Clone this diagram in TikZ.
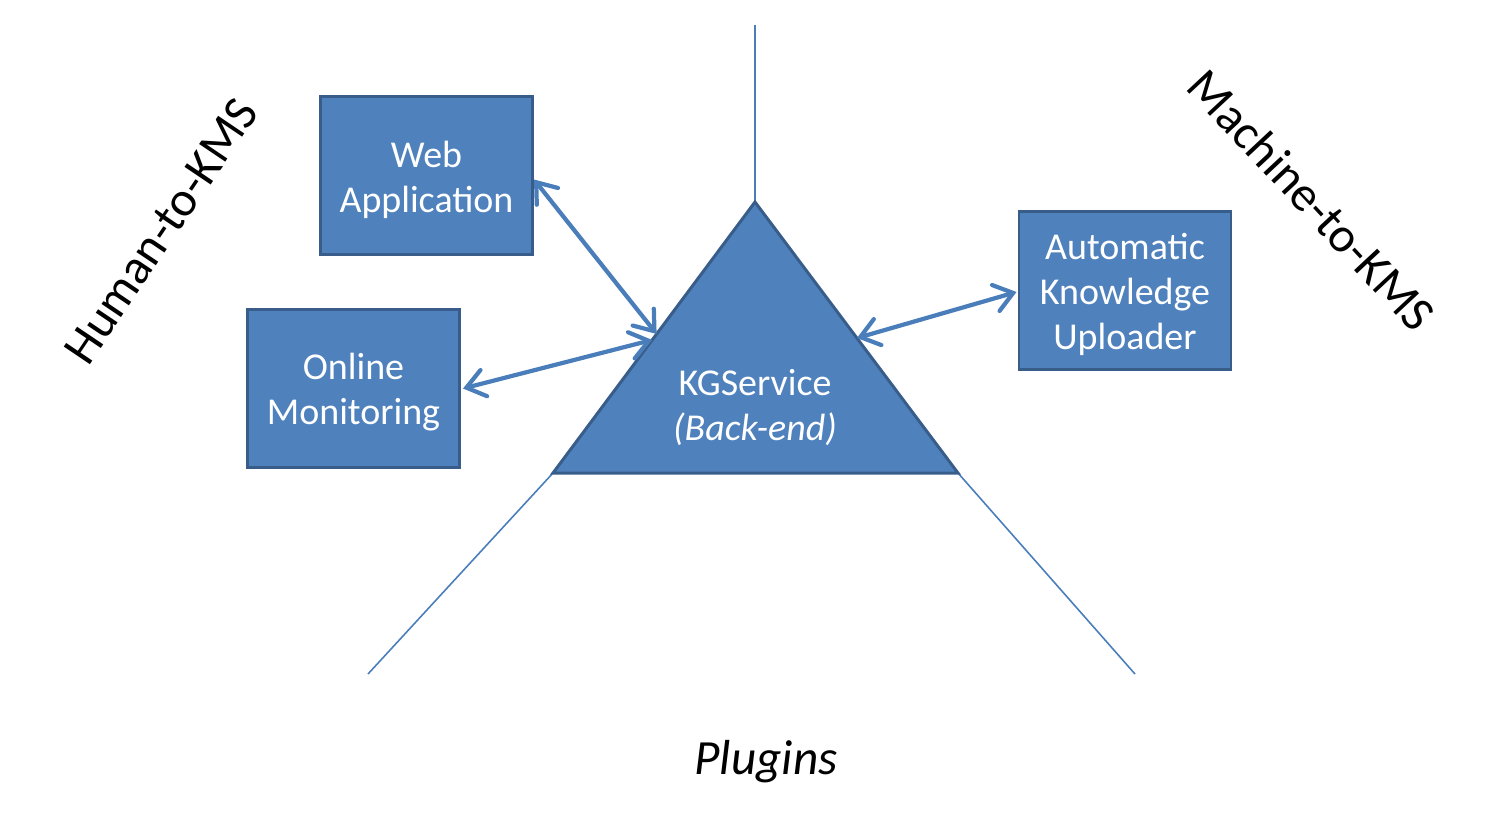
\documentclass[tikz,border=0pt]{standalone}
\usepackage{fontspec}
\setmainfont{Carlito}
\usetikzlibrary{arrows.meta,calc}
\definecolor{boxfill}{HTML}{4F81BD}
\definecolor{boxline}{HTML}{385D8A}
\definecolor{linkcol}{HTML}{4A7EBB}
\newcommand{\boxtop}{\rule{0pt}{9.8pt}}
\tikzset{
  block/.style={draw=boxline,fill=boxfill,line width=0.85pt,text=white,align=center,
    minimum width=2.12cm,minimum height=1.58cm,inner sep=0pt,
    font=\fontsize{10.8}{12.8}\selectfont},
  link/.style={draw=linkcol,line width=1.2pt,line cap=round,
    {Straight Barb[length=0.18cm,width=0.27cm,line cap=round]}-{Straight Barb[length=0.18cm,width=0.27cm,line cap=round]}},
  sector/.style={draw=linkcol,line width=0.45pt},
  biglabel/.style={font=\fontsize{14}{17}\selectfont}
}
\begin{document}
\begin{tikzpicture}
\useasboundingbox (0,0) rectangle (14.97,-8.19);
\coordinate (apex) at (7.55,-2.02);
\coordinate (bl) at (5.53,-4.73);
\coordinate (br) at (9.58,-4.73);
\coordinate (topend) at (7.55,-0.25);
\coordinate (llend) at (3.68,-6.74);
\coordinate (lrend) at (11.35,-6.74);
\draw[sector] (topend) -- (apex);
\draw[sector] (bl) -- (llend);
\draw[sector] (br) -- (lrend);
\draw[draw=boxline,fill=boxfill,line width=0.85pt,line join=miter] (apex) -- (bl) -- (br) -- cycle;
\node[text=white,align=center,font=\fontsize{10.8}{12.8}\selectfont] (kg) at (7.55,-4.08) {KGService\\\textit{(Back-end)}};
\node[block] (web) at (4.265,-1.755) {\boxtop Web\\Application};
\node[block] (online) at (3.535,-3.885) {\boxtop Online\\Monitoring};
\node[block] (aku) at (11.25,-2.90) {\boxtop Automatic\\Knowledge\\Uploader};
\coordinate (kgweb) at ($(apex)!0.487!(bl)$);
\coordinate (kgonline) at ($(apex)!0.509!(bl)$);
\coordinate (kgaku) at ($(apex)!0.502!(br)$);
\draw[link] ([yshift=-0.04cm]web.east) -- (kgweb);
\draw[link] ([xshift=0.02cm]online.east) -- (kgonline);
\draw[link] (kgaku) -- ([xshift=-0.01cm,yshift=-0.02cm]aku.west);
\node[biglabel,rotate=56] (human) at (1.61,-2.31) {Human-to-KMS};
\node[biglabel,rotate=-47] (machine) at (13.12,-2.00) {Machine-to-KMS};
\node[biglabel] (plugins) at (7.66,-7.62) {\textit{Plugins}};
\end{tikzpicture}
\end{document}
